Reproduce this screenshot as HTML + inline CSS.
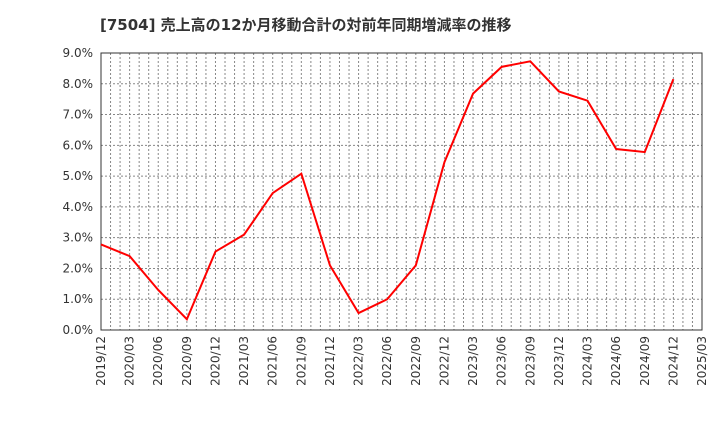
<!DOCTYPE html>
<html><head><meta charset="utf-8"><style>
body{margin:0;background:#fff;font-family:"DejaVu Sans","Noto Sans CJK JP",sans-serif;}
</style></head><body>
<svg width="720" height="440" xmlns="http://www.w3.org/2000/svg" font-family="DejaVu Sans, Noto Sans CJK JP, sans-serif">
<text x="100" y="30" font-size="15" font-weight="bold" fill="#333">[7504]  売上高の12か月移動合計の対前年同期増減率の推移</text>
<g id="grid"></g><g id="axes"></g><g id="series"></g>
</svg>
<script>
const categories=["2019/12","2020/03","2020/06","2020/09","2020/12","2021/03","2021/06","2021/09","2021/12","2022/03","2022/06","2022/09","2022/12","2023/03","2023/06","2023/09","2023/12","2024/03","2024/06","2024/09","2024/12","2025/03"];
const values=[2.78,2.4,1.3,0.35,2.55,3.1,4.45,5.08,2.1,0.55,1.0,2.1,5.45,7.68,8.55,8.73,7.75,7.45,5.88,5.78,8.15];
const yTicks=[0,1,2,3,4,5,6,7,8,9];
const NS="http://www.w3.org/2000/svg";
const L=101,R=702,T=53,B=330,yMax=9;
const nQ=categories.length-1;
const x=i=>L+(R-L)*i/nQ;
const y=v=>B-(B-T)*v/yMax;
function mk(tag,attrs,parent){const e=document.createElementNS(NS,tag);for(const k in attrs)e.setAttribute(k,attrs[k]);document.getElementById(parent).appendChild(e);return e;}
for(let m=1;m<nQ*3;m++){const xx=L+(R-L)*m/(nQ*3);
const g=mk("line",{x1:xx,x2:xx,y1:T,y2:B,stroke:"#888","stroke-width":1,"stroke-dasharray":"2,2"},"grid");

}
yTicks.forEach(t=>{if(t>0&&t<yMax){const g=mk("line",{x1:L,x2:R,y1:y(t),y2:y(t),stroke:"#888","stroke-width":1,"stroke-dasharray":"2,2"},"grid");

}
const tl=mk("text",{x:L-8,y:y(t)+4,"font-size":12,fill:"#333","text-anchor":"end"},"axes");tl.textContent=t.toFixed(1)+"%";

});
const fr=mk("rect",{x:L,y:T,width:R-L,height:B-T,fill:"none",stroke:"#333","stroke-width":1},"axes");


categories.forEach((c,i)=>{const t=mk("text",{transform:`translate(${x(i)+4},${B+6}) rotate(-90)`,"font-size":12,fill:"#333","text-anchor":"end"},"axes");t.textContent=c;

});
const pl=mk("polyline",{points:values.map((v,i)=>x(i)+","+y(v)).join(" "),fill:"none",stroke:"#f00","stroke-width":2},"series");


</script>
</body></html>
